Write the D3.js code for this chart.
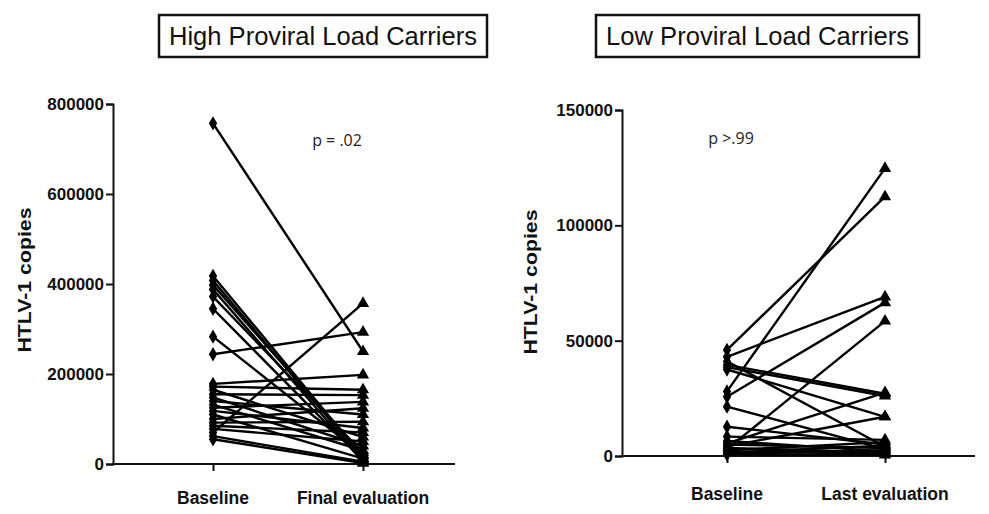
<!DOCTYPE html>
<html lang="en">
	<head>
		<meta charset="utf-8">
		<title>HTLV-1 proviral load</title>
		<script type="text/javascript" src="https://d3js.org/d3.v7.min.js"></script>
		<style type="text/css">
			body{
				margin: 0;
				background-color: #fff;
			}
			.tick text{
				font-family: "Liberation Sans", Arial, sans-serif;
				font-weight: bold;
				font-size: 17px;
				fill: #111;
			}
			.axisLabel{
				font-family: "Liberation Sans", Arial, sans-serif;
				font-weight: bold;
				fill: #111;
			}
		</style>
	</head>
	<body>
		<script type="text/javascript">

			//Width and height
			var w = 989;
			var h = 514;

			// data
			var groups = ["Baseline", "Final evaluation"];
			var groupsLow = ["Baseline", "Last evaluation"];

			// high proviral load carriers
			var highBaseline = [757000, 418000, 408000, 398000, 388000, 372000, 345000, 283000, 244000,
				178000, 172000, 165000, 155000, 148000, 140000, 132000, 125000, 118000, 110000,
				100000, 92000, 85000, 78000, 70000, 62000, 55000];
			var highFinal = [250000, 15000, 10000, 20000, 5000, 25000, 8000, 20000, 293000,
				198000, 165000, 60000, 153000, 40000, 110000, 30000, 138000, 80000, 12000,
				124000, 94000, 70000, 50000, 357000, 5000, 2000];

			// low proviral load carriers
			var lowBaseline = [46000, 43000, 41000, 39500, 38500, 37500, 28000, 25700, 21400, 12700,
				8400, 6500, 5500, 5000, 4200, 3500, 3000, 2500, 2000, 1500, 1000, 700];
			var lowFinal = [112400, 69000, 4000, 27000, 26000, 17000, 124700, 66500, 3000, 5000,
				7000, 2000, 27500, 3500, 17000, 1500, 58500, 6000, 1000, 4500, 2500, 500];

			var highTicks = [0, 200000, 400000, 600000, 800000];
			var lowTicks = [0, 50000, 100000, 150000];

			var svg = d3.select("body")
						.append("svg")
						.attr("width", w)
						.attr("height", h);

			//draw one panel
			function panel(opts) {
				var y = d3.scaleLinear()
						  .domain([0, opts.max])
						  .range([opts.bottom, opts.top]);
				var x = d3.scalePoint()
						  .domain(opts.groups)
						  .range([opts.x0, opts.x1]);

				var g = svg.append("g");

				//y axis
				var yAxis = d3.axisLeft(y)
							  .tickValues(opts.ticks)
							  .tickFormat(d3.format("d"))
							  .tickSizeOuter(0)
							  .tickSize(7)
							  .tickPadding(2);
				var ya = g.append("g")
						  .attr("transform", "translate(" + opts.axisX + ",0)")
						  .call(yAxis);
				ya.selectAll("path, line").attr("stroke", "#111").attr("stroke-width", 2);

				//x axis (baseline line spans wider than the two points)
				var xAxis = d3.axisBottom(x).tickSize(7).tickFormat("");
				var xa = g.append("g")
						  .attr("transform", "translate(0," + opts.bottom + ")")
						  .call(xAxis);
				xa.select(".domain").remove();
				xa.selectAll("line").attr("stroke", "#111").attr("stroke-width", 2);
				g.append("line")
				 .attr("x1", opts.axisX - 1)
				 .attr("x2", opts.axisEnd)
				 .attr("y1", opts.bottom)
				 .attr("y2", opts.bottom)
				 .attr("stroke", "#111")
				 .attr("stroke-width", 2);

				//category labels
				g.selectAll(".catLabel")
				 .data(opts.groups)
				 .enter()
				 .append("text")
				 .attr("class", "axisLabel catLabel")
				 .attr("x", function(d) { return x(d); })
				 .attr("y", opts.labelY)
				 .attr("text-anchor", "middle")
				 .style("font-size", "17.5px")
				 .text(function(d) { return d; });

				//y axis title
				g.append("text")
				 .attr("class", "axisLabel")
				 .attr("transform", "translate(" + opts.titleX + "," + opts.titleY + ") rotate(-90)")
				 .attr("text-anchor", "middle")
				 .attr("textLength", 145)
				 .attr("lengthAdjust", "spacingAndGlyphs")
				 .style("font-size", "19px")
				 .text("HTLV-1 copies");

				var pairs = opts.before.map(function(v, i) { return [v, opts.after[i]]; });

				//connecting lines
				g.selectAll(".pair")
				 .data(pairs)
				 .enter()
				 .append("line")
				 .attr("x1", x(opts.groups[0]))
				 .attr("x2", x(opts.groups[1]))
				 .attr("y1", function(d) { return y(d[0]); })
				 .attr("y2", function(d) { return y(d[1]); })
				 .attr("stroke", "#000")
				 .attr("stroke-width", 2.4);

				//diamonds at baseline
				g.selectAll(".dia")
				 .data(opts.before)
				 .enter()
				 .append("path")
				 .attr("d", d3.symbol().type(d3.symbolDiamond).size(60))
				 .attr("transform", function(d) { return "translate(" + x(opts.groups[0]) + "," + y(d) + ")"; })
				 .attr("fill", "#000");

				//triangles at follow up
				g.selectAll(".tri")
				 .data(opts.after)
				 .enter()
				 .append("path")
				 .attr("d", d3.symbol().type(d3.symbolTriangle).size(65))
				 .attr("transform", function(d) { return "translate(" + x(opts.groups[1]) + "," + y(d) + ")"; })
				 .attr("fill", "#000");

				//p value
				g.append("text")
				 .attr("x", opts.pX)
				 .attr("y", opts.pY)
				 .attr("text-anchor", "middle")
				 .style("font-family", "'Open Sans', sans-serif")
				 .style("font-size", "16px")
				 .attr("fill", "#222")
				 .text(opts.p);

				//boxed heading
				g.append("rect")
				 .attr("x", opts.boxX)
				 .attr("y", 15)
				 .attr("width", opts.boxW)
				 .attr("height", 42)
				 .attr("fill", "#fff")
				 .attr("stroke", "#111")
				 .attr("stroke-width", 2.5);
				g.append("text")
				 .attr("x", opts.boxX + opts.boxW / 2)
				 .attr("y", 45)
				 .attr("text-anchor", "middle")
				 .attr("textLength", opts.boxW - 20)
				 .attr("lengthAdjust", "spacingAndGlyphs")
				 .style("font-family", "'Liberation Sans', Arial, sans-serif")
				 .style("font-size", "25px")
				 .attr("fill", "#111")
				 .text(opts.heading);
			}

			panel({
				groups: groups, before: highBaseline, after: highFinal,
				max: 800000, ticks: highTicks,
				top: 104, bottom: 464, x0: 213, x1: 363,
				axisX: 113, axisEnd: 455, labelY: 504,
				titleX: 31, titleY: 280,
				p: "p = .02", pX: 337, pY: 146,
				heading: "High Proviral Load Carriers", boxX: 159, boxW: 328
			});

			panel({
				groups: groupsLow, before: lowBaseline, after: lowFinal,
				max: 150000, ticks: lowTicks,
				top: 110, bottom: 456, x0: 727, x1: 885,
				axisX: 622, axisEnd: 975, labelY: 500,
				titleX: 537, titleY: 282,
				p: "p >.99", pX: 731, pY: 144,
				heading: "Low Proviral Load Carriers", boxX: 596, boxW: 323
			});

		</script>
	</body>
</html>
